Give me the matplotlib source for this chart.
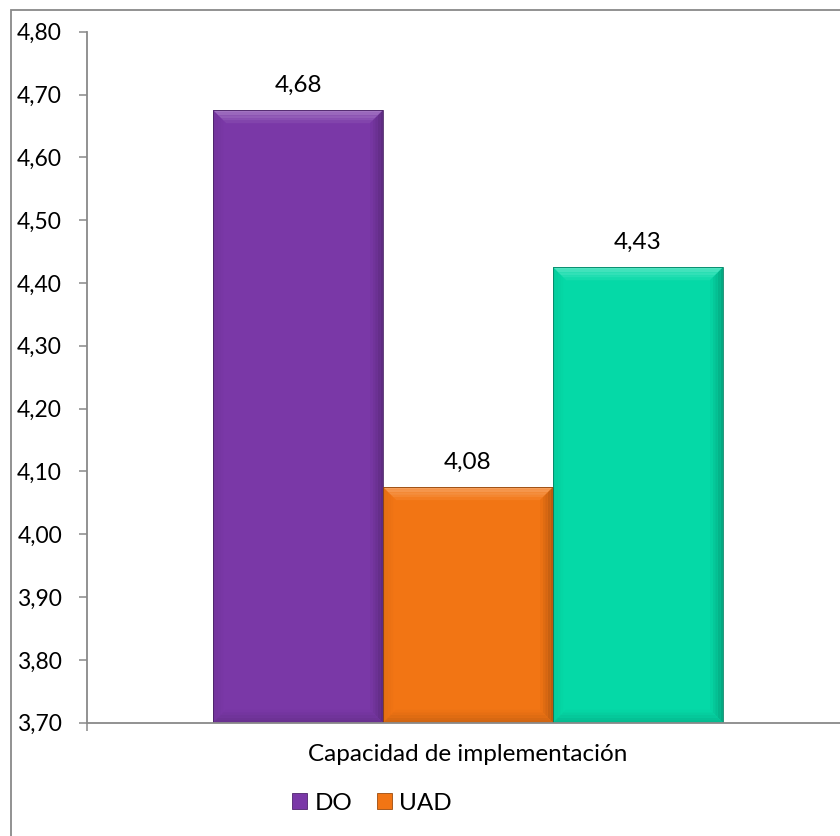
import matplotlib
matplotlib.use('Agg')
import matplotlib.pyplot as plt
import matplotlib.patches as mpatches
from matplotlib.ticker import FuncFormatter, FixedLocator
import numpy as np

plt.rcParams['font.family'] = ['Lato', 'DejaVu Sans']

# values
category = "Capacidad de implementación"
series_names = ["DO", "UAD", ""]
series_values = [4.675, 4.075, 4.425]
series_labels = ["4,68", "4,08", "4,43"]
series_colors = ["#7A38A7", "#F27514", "#05D9A7"]
y_ticks = [3.70, 3.80, 3.90, 4.00, 4.10, 4.20, 4.30, 4.40, 4.50, 4.60, 4.70, 4.80]

GRAY = "#898989"
FS = 17.5
W, H = 840, 836

fig = plt.figure(figsize=(W / 100, H / 100), dpi=100, facecolor="white")
# plot area runs past the right edge of the canvas
ax = fig.add_axes([87 / W, (H - 722.7) / H, (849 - 87) / W, (722.7 - 31.7) / H])
ax.set_facecolor("none")

ax.set_xlim(-0.5, 0.5)
ax.set_ylim(y_ticks[0], y_ticks[-1])

bar_w = 170 / 762
offsets = (np.arange(len(series_values)) - (len(series_values) - 1) / 2) * bar_w


def shade(c, f):
    r, g, b = matplotlib.colors.to_rgb(c)
    if f >= 0:
        return (r + (1 - r) * f, g + (1 - g) * f, b + (1 - b) * f)
    f = -f
    return (r * (1 - f), g * (1 - f), b * (1 - f))


bars = []
for off, val, col, name in zip(offsets, series_values, series_colors, series_names):
    b = ax.bar(off, val - y_ticks[0], bottom=y_ticks[0], width=bar_w, color=col,
               linewidth=0, label=name, zorder=2)
    bars.append(b[0])

# soft bevel on each bar: stepped strips fading from the edge inwards
px_x = 1.0 / 762
px_y = (y_ticks[-1] - y_ticks[0]) / 691
bev, steps = 13, 5
for rect, col in zip(bars, series_colors):
    x0 = rect.get_x()
    x1 = x0 + rect.get_width()
    y0 = rect.get_y()
    y1 = y0 + rect.get_height()
    for k in range(steps):
        a = k * bev / steps
        c = (k + 1) * bev / steps
        t = k / (steps - 1)
        ax_, ay_ = a * px_x, a * px_y
        cx_, cy_ = c * px_x, c * px_y
        top = [(x0 + ax_, y1 - ay_), (x1 - ax_, y1 - ay_), (x1 - cx_, y1 - cy_), (x0 + cx_, y1 - cy_)]
        left = [(x0 + ax_, y0 + ay_), (x0 + ax_, y1 - ay_), (x0 + cx_, y1 - cy_), (x0 + cx_, y0 + cy_)]
        right = [(x1 - ax_, y0 + ay_), (x1 - ax_, y1 - ay_), (x1 - cx_, y1 - cy_), (x1 - cx_, y0 + cy_)]
        bottom = [(x0 + ax_, y0 + ay_), (x1 - ax_, y0 + ay_), (x1 - cx_, y0 + cy_), (x0 + cx_, y0 + cy_)]
        for pts, f_out, f_in in [(top, 0.30, 0.06), (left, -0.06, 0.0),
                                 (right, -0.22, -0.03), (bottom, -0.14, -0.02)]:
            f = f_out + (f_in - f_out) * t
            ax.add_patch(mpatches.Polygon(pts, closed=True, facecolor=shade(col, f),
                                          edgecolor="none", zorder=3))
    ax.add_patch(mpatches.Rectangle((x0, y0), x1 - x0, y1 - y0, fill=False,
                                    edgecolor=shade(col, -0.4), linewidth=0.6, zorder=4))

for rect, lab in zip(bars, series_labels):
    ax.annotate(lab, xy=(rect.get_x() + rect.get_width() / 2, rect.get_y() + rect.get_height()),
                xytext=(0, 13), textcoords="offset points", ha="center", va="baseline",
                fontsize=FS, color="black")

# axes styling
for s in ["top", "right"]:
    ax.spines[s].set_visible(False)
for s in ["left", "bottom"]:
    ax.spines[s].set_color(GRAY)
    ax.spines[s].set_linewidth(1.3)
    ax.spines[s].set_zorder(5)

ax.yaxis.set_major_locator(FixedLocator(y_ticks))
ax.yaxis.set_major_formatter(FuncFormatter(lambda v, p: f"{v:.2f}".replace(".", ",")))
ax.tick_params(axis="y", direction="out", length=6, width=1.1, color=GRAY,
               labelsize=16.5, labelcolor="black", pad=12)

ax.set_xticks([0])
ax.set_xticklabels([category])
ax.set_xticks([-0.5, 0.5], minor=True)
ax.tick_params(axis="x", which="major", length=0, labelsize=FS, pad=15)
ax.tick_params(axis="x", which="minor", direction="out", length=5.5, width=1.1, color=GRAY)

handles = [mpatches.Patch(facecolor=c, edgecolor=shade(c, -0.35), linewidth=0.6, label=n)
           for c, n in zip(series_colors, series_names) if n]
fig.legend(handles=handles, loc="center", bbox_to_anchor=(372 / W, 1 - 803 / H),
           ncol=len(handles), frameon=False, fontsize=FS, handlelength=0.62,
           handleheight=0.62, handletextpad=0.3, columnspacing=1.0)

# chart border (right and bottom edges fall outside the canvas)
fig.patches.append(mpatches.Rectangle((11 / W, -0.5), 2, (H - 10) / H + 0.5, fill=False,
                                      edgecolor=GRAY, linewidth=1.3,
                                      transform=fig.transFigure, figure=fig))

fig.savefig("out.png", dpi=100, facecolor="white")
